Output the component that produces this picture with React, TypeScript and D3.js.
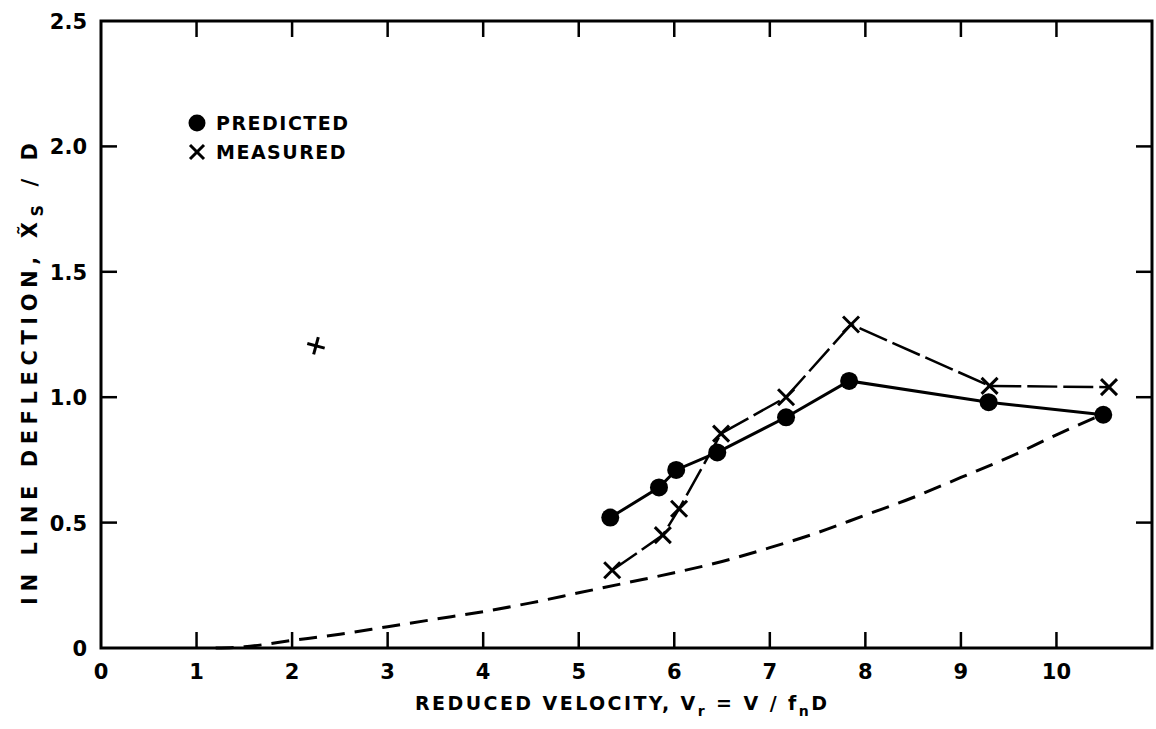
import React from "react";
import * as d3 from "d3";

const predictedX = [5.33, 5.84, 6.02, 6.45, 7.17, 7.83, 9.29, 10.49];
const predictedY = [0.52, 0.64, 0.71, 0.78, 0.92, 1.065, 0.98, 0.93];
const measuredX = [5.35, 5.88, 6.05, 6.49, 7.17, 7.85, 9.3, 10.55];
const measuredY = [0.31, 0.45, 0.555, 0.855, 1.0, 1.29, 1.045, 1.04];
const outlierX = [2.25];
const outlierY = [1.205];
const curveX = [1.2, 1.5, 2, 2.5, 3, 3.5, 4, 4.5, 5, 5.5, 6, 6.5, 7, 7.5, 8, 8.5, 9, 9.5, 10, 10.5];
const curveY = [0, 0.005, 0.03, 0.055, 0.085, 0.115, 0.145, 0.18, 0.22, 0.26, 0.3, 0.345, 0.4, 0.46, 0.53, 0.6, 0.68, 0.76, 0.85, 0.935];
const xTicks = [0, 1, 2, 3, 4, 5, 6, 7, 8, 9, 10];
const xTicksBorder = [1, 2, 3, 4, 5, 6, 7, 8, 9, 10];
const yTicks = [0, 0.5, 1.0, 1.5, 2.0, 2.5];
const yTickLabels = ["0", "0.5", "1.0", "1.5", "2.0", "2.5"];

const W = 1156, H = 729;
const L = 101, R = 1152, T = 21, B = 648;
const FONT = "'DejaVu Sans', sans-serif";

export default function App() {
  const x = d3.scaleLinear().domain([0, 11]).range([L, R]);
  const y = d3.scaleLinear().domain([0, 2.5]).range([B, T]);
  const line = d3.line<[number, number]>().x(d => x(d[0])).y(d => y(d[1]));
  const curve = d3.line<[number, number]>().x(d => x(d[0])).y(d => y(d[1])).curve(d3.curveMonotoneX);
  const pred = predictedX.map((v, i) => [v, predictedY[i]] as [number, number]);
  const meas = measuredX.map((v, i) => [v, measuredY[i]] as [number, number]);
  const cur = curveX.map((v, i) => [v, curveY[i]] as [number, number]);
  const tickLen = 16;
  const xm = 8;
  const cross = (cx: number, cy: number, key: string, s = xm) => (
    <g key={key} stroke="#000" strokeWidth={3}>
      <line x1={cx - s} y1={cy - s} x2={cx + s} y2={cy + s} />
      <line x1={cx - s} y1={cy + s} x2={cx + s} y2={cy - s} />
    </g>
  );
  return (
    <svg width={W} height={H} style={{ position: "absolute", left: 0, top: 0, background: "#fff" }}
      fontFamily={FONT} fontWeight="bold">
      <rect x={0} y={0} width={W} height={H} fill="#fff" />
      <rect x={L} y={T} width={R - L} height={B - T} fill="none" stroke="#000" strokeWidth={3} />
      {xTicksBorder.map(t => (
        <g key={"xt" + t} stroke="#000" strokeWidth={2.5}>
          <line x1={x(t)} x2={x(t)} y1={B} y2={B - tickLen} />
          <line x1={x(t)} x2={x(t)} y1={T} y2={T + tickLen} />
        </g>
      ))}
      {yTicks.slice(1, -1).map(t => (
        <g key={"yt" + t} stroke="#000" strokeWidth={2.5}>
          <line x1={L} x2={L + tickLen} y1={y(t)} y2={y(t)} />
          <line x1={R} x2={R - tickLen} y1={y(t)} y2={y(t)} />
        </g>
      ))}
      {xTicks.map(t => (
        <text key={"xl" + t} x={x(t)} y={B + 31} textAnchor="middle" fontSize={21}>{t}</text>
      ))}
      {yTicks.map((t, i) => (
        <text key={"yl" + t} x={L - 14} y={y(t) + 8} textAnchor="end" fontSize={21}>{yTickLabels[i]}</text>
      ))}
      <text x={415} y={710} textAnchor="start" fontSize={19} textLength={412} lengthAdjust="spacing">
        REDUCED VELOCITY,  V<tspan fontSize={14} dy={6}>r</tspan><tspan dy={-6}>  =  V / f</tspan><tspan fontSize={14} dy={6}>n</tspan><tspan dy={-6}>D</tspan>
      </text>
      <text transform={`translate(37,605) rotate(-90)`} textAnchor="start" fontSize={21} textLength={462} lengthAdjust="spacing">
        IN LINE DEFLECTION,  X̃<tspan fontSize={16} dy={6}>S</tspan><tspan dy={-6}> / D</tspan>
      </text>
      <path d={curve(cur) || ""} fill="none" stroke="#000" strokeWidth={3} strokeDasharray="18,10" />
      <path d={line(pred) || ""} fill="none" stroke="#000" strokeWidth={3} />
      <path d={line(meas) || ""} fill="none" stroke="#000" strokeWidth={2.5} strokeDasharray="30,6" />
      {pred.map((p, i) => <circle key={"p" + i} cx={x(p[0])} cy={y(p[1])} r={9} fill="#000" />)}
      {meas.map((p, i) => cross(x(p[0]), y(p[1]), "m" + i))}
      {outlierX.map((v, i) => (
        <g key={"o" + i} stroke="#000" strokeWidth={3} transform={`translate(${x(v)},${y(outlierY[i])}) rotate(15)`}>
          <line x1={-9} y1={0} x2={9} y2={0} />
          <line x1={0} y1={-9} x2={0} y2={9} />
        </g>
      ))}
      <circle cx={197} cy={123} r={8.5} fill="#000" />
      <text x={216} y={130} fontSize={19} letterSpacing={1.5}>PREDICTED</text>
      {cross(197, 152, "leg", 7)}
      <text x={216} y={159} fontSize={19} letterSpacing={1.5}>MEASURED</text>
    </svg>
  );
}
